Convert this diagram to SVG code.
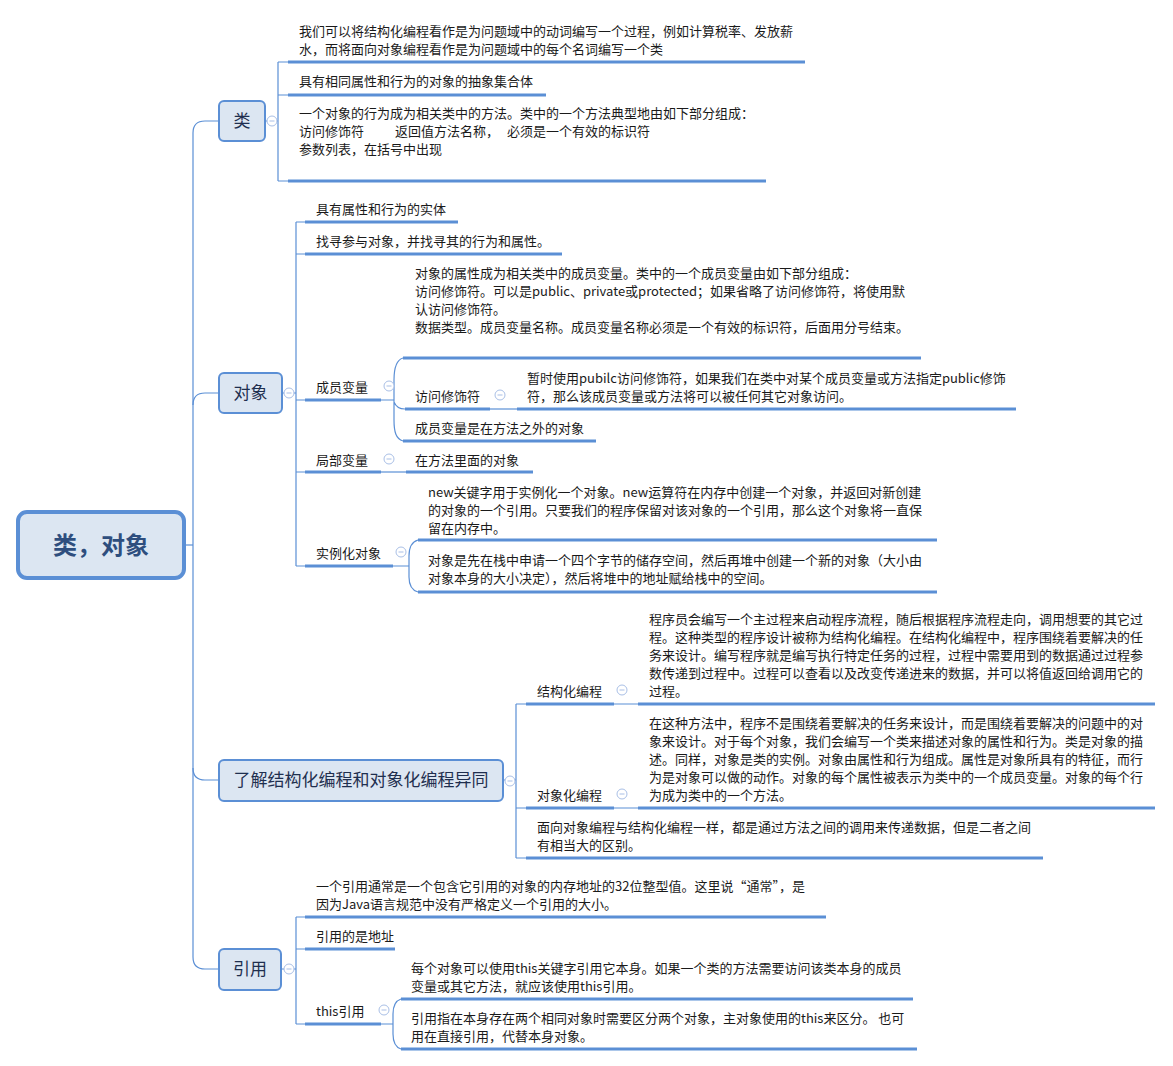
<svg xmlns="http://www.w3.org/2000/svg" width="1173" height="1066" viewBox="0 0 1173 1066">
<style>
text{font-family:"Noto Sans CJK SC","Microsoft YaHei","Noto Sans",sans-serif;font-size:13px;fill:#1a1a1a}
.node rect{fill:#dce6f2;stroke:#5b8fd5;stroke-width:2}
.node text{font-size:17px;fill:#1f2f4f}
.root rect{stroke-width:4}
.root text{font-size:24px;font-weight:bold;fill:#2e4e7e}
.thin{fill:none;stroke:#5b8fd5;stroke-width:1.2}
.ul{fill:none;stroke:#5b8fd5;stroke-width:3}
.tog circle{fill:#fff;stroke:#a9bfe6;stroke-width:1}
.tog path{stroke:#a9bfe6;stroke-width:1}
</style>
<defs>
<g id="tg" class="tog"><circle cx="0" cy="0" r="5"/><path d="M-2.5,0 H2.5"/></g>
</defs>
<rect width="1173" height="1066" fill="#fff"/>

<g id="connectors">
<!-- trunk -->
<path class="thin" d="M185,545 H193"/>
<path class="thin" d="M219,121 H205 Q193,121 193,133 V957 Q193,969 205,969 H219"/>
<path class="thin" d="M193,405 Q193,393 205,393 H219"/>
<path class="thin" d="M193,768 Q193,780 205,780 H219"/>
<!-- 类 -->
<path class="thin" d="M265,121 H278 M278,62 V181 M278,62 H288 M278,95 H288 M278,181 H288"/>
<path class="ul" d="M288,62 H805 M288,95 H546 M288,181 H766"/>
<!-- 对象 -->
<path class="thin" d="M282,393 H296 M296,222 V566 M296,222 H305 M296,254 H305 M296,400 H305 M296,472 H305 M296,566 H305"/>
<path class="ul" d="M305,222 H458 M305,254 H562 M305,400 H381 M305,472 H381 M305,566 H393"/>
<!-- 成员变量 -->
<path class="thin" d="M381,400 H394 M403,358 C396,360 394,368 394,380 V420 C394,432 396,439 403,441 M394,402 C396,407 399,409 405,409"/>
<path class="ul" d="M403,358 H921 M405,409 H490 M403,441 H596"/>
<path class="thin" d="M490,409 H517"/>
<path class="ul" d="M517,409 H1016"/>
<!-- 局部变量 -->
<path class="thin" d="M381,472 H406"/>
<path class="ul" d="M406,472 H533"/>
<!-- 实例化对象 -->
<path class="thin" d="M393,566 H409 M418,540 C411,542 409,548 409,556 V577 C409,585 411,590 418,592"/>
<path class="ul" d="M418,540 H937 M418,592 H937"/>
<!-- 了解 -->
<path class="thin" d="M503,780 H516 M516,704 V858 M516,704 H526 M516,808 H526 M516,858 H526"/>
<path class="ul" d="M526,704 H614 M526,808 H614 M526,858 H1043"/>
<path class="thin" d="M614,704 H638 M614,808 H638"/>
<path class="ul" d="M638,704 H1155 M638,808 H1155"/>
<!-- 引用 -->
<path class="thin" d="M281,969 H296 M296,917 V1024 M296,917 H305 M296,949 H305 M296,1024 H305"/>
<path class="ul" d="M305,917 H826 M305,949 H395 M305,1024 H381"/>
<path class="thin" d="M381,1024 H393 M401,999 C395,1001 393,1007 393,1014 V1034 C393,1041 395,1047 401,1049"/>
<path class="ul" d="M401,999 H913 M401,1049 H917"/>
</g>

<g id="root" class="node root">
<rect x="18" y="512" width="166" height="66" rx="9"/>
<text x="101" y="554" text-anchor="middle">类，对象</text>
</g>

<g id="n-lei" class="node">
<rect x="219" y="101" width="46" height="40" rx="5"/>
<text x="242" y="127" text-anchor="middle">类</text>
</g>
<use href="#tg" x="272" y="121"/>

<g id="n-duixiang" class="node">
<rect x="219" y="373" width="63" height="40" rx="5"/>
<text x="250.5" y="399" text-anchor="middle">对象</text>
</g>
<use href="#tg" x="289" y="393"/>

<g id="n-liaojie" class="node">
<rect x="219" y="760" width="284" height="41" rx="5"/>
<text x="361" y="786" text-anchor="middle">了解结构化编程和对象化编程异同</text>
</g>
<use href="#tg" x="510" y="781"/>

<g id="n-yinyong" class="node">
<rect x="219" y="949" width="62" height="41" rx="5"/>
<text x="250" y="975" text-anchor="middle">引用</text>
</g>
<use href="#tg" x="289" y="969"/>

<!-- 类 children -->
<g id="lei-1"><text x="299" y="36">我们可以将结构化编程看作是为问题域中的动词编写一个过程，例如计算税率、发放薪</text><text x="299" y="54">水，而将面向对象编程看作是为问题域中的每个名词编写一个类</text></g>
<g id="lei-2"><text x="299" y="86">具有相同属性和行为的对象的抽象集合体</text></g>
<g id="lei-3"><text x="299" y="118">一个对象的行为成为相关类中的方法。类中的一个方法典型地由如下部分组成：</text><text y="136"><tspan x="299">访问修饰符</tspan><tspan x="395">返回值方法名称，</tspan><tspan x="507">必须是一个有效的标识符</tspan></text><text x="299" y="154">参数列表，在括号中出现</text></g>

<!-- 对象 children -->
<g id="dx-1"><text x="316" y="214">具有属性和行为的实体</text></g>
<g id="dx-2"><text x="316" y="246">找寻参与对象，并找寻其的行为和属性。</text></g>
<g id="dx-cy"><text x="316" y="392">成员变量</text></g>
<use href="#tg" x="389" y="386"/>
<g id="cy-1"><text x="415" y="278">对象的属性成为相关类中的成员变量。类中的一个成员变量由如下部分组成：</text><text x="415" y="296">访问修饰符。可以是public、private或protected；如果省略了访问修饰符，将使用默</text><text x="415" y="314">认访问修饰符。</text><text x="415" y="332">数据类型。成员变量名称。成员变量名称必须是一个有效的标识符，后面用分号结束。</text></g>
<g id="cy-2"><text x="415" y="401">访问修饰符</text></g>
<use href="#tg" x="500" y="395"/>
<g id="cy-2-1"><text x="527" y="383">暂时使用pubilc访问修饰符，如果我们在类中对某个成员变量或方法指定public修饰</text><text x="527" y="401">符，那么该成员变量或方法将可以被任何其它对象访问。</text></g>
<g id="cy-3"><text x="415" y="433">成员变量是在方法之外的对象</text></g>
<g id="dx-jb"><text x="316" y="465">局部变量</text></g>
<use href="#tg" x="389" y="459"/>
<g id="jb-1"><text x="415" y="465">在方法里面的对象</text></g>
<g id="dx-sl"><text x="316" y="558">实例化对象</text></g>
<use href="#tg" x="401" y="552"/>
<g id="sl-1"><text x="428" y="497">new关键字用于实例化一个对象。new运算符在内存中创建一个对象，并返回对新创建</text><text x="428" y="515">的对象的一个引用。只要我们的程序保留对该对象的一个引用，那么这个对象将一直保</text><text x="428" y="533">留在内存中。</text></g>
<g id="sl-2"><text x="428" y="565">对象是先在栈中申请一个四个字节的储存空间，然后再堆中创建一个新的对象（大小由</text><text x="428" y="583">对象本身的大小决定），然后将堆中的地址赋给栈中的空间。</text></g>

<!-- 了解 children -->
<g id="lj-jg"><text x="537" y="696">结构化编程</text></g>
<use href="#tg" x="622" y="690"/>
<g id="jg-1"><text x="649" y="624">程序员会编写一个主过程来启动程序流程，随后根据程序流程走向，调用想要的其它过</text><text x="649" y="642">程。这种类型的程序设计被称为结构化编程。在结构化编程中，程序围绕着要解决的任</text><text x="649" y="660">务来设计。编写程序就是编写执行特定任务的过程，过程中需要用到的数据通过过程参</text><text x="649" y="678">数传递到过程中。过程可以查看以及改变传递进来的数据，并可以将值返回给调用它的</text><text x="649" y="696">过程。</text></g>
<g id="lj-dx"><text x="537" y="800">对象化编程</text></g>
<use href="#tg" x="622" y="794"/>
<g id="dxbc-1"><text x="649" y="728">在这种方法中，程序不是围绕着要解决的任务来设计，而是围绕着要解决的问题中的对</text><text x="649" y="746">象来设计。对于每个对象，我们会编写一个类来描述对象的属性和行为。类是对象的描</text><text x="649" y="764">述。同样，对象是类的实例。对象由属性和行为组成。属性是对象所具有的特征，而行</text><text x="649" y="782">为是对象可以做的动作。对象的每个属性被表示为类中的一个成员变量。对象的每个行</text><text x="649" y="800">为成为类中的一个方法。</text></g>
<g id="lj-3"><text x="537" y="832">面向对象编程与结构化编程一样，都是通过方法之间的调用来传递数据，但是二者之间</text><text x="537" y="850">有相当大的区别。</text></g>

<!-- 引用 children -->
<g id="yy-1"><text x="316" y="891">一个引用通常是一个包含它引用的对象的内存地址的32位整型值。这里说“通常”，是</text><text x="316" y="909">因为Java语言规范中没有严格定义一个引用的大小。</text></g>
<g id="yy-2"><text x="316" y="941">引用的是地址</text></g>
<g id="yy-this"><text x="316" y="1016">this引用</text></g>
<use href="#tg" x="384" y="1010"/>
<g id="this-1"><text x="411" y="973">每个对象可以使用this关键字引用它本身。如果一个类的方法需要访问该类本身的成员</text><text x="411" y="991">变量或其它方法，就应该使用this引用。</text></g>
<g id="this-2"><text x="411" y="1023">引用指在本身存在两个相同对象时需要区分两个对象，主对象使用的this来区分。 也可</text><text x="411" y="1041">用在直接引用，代替本身对象。</text></g>
</svg>
